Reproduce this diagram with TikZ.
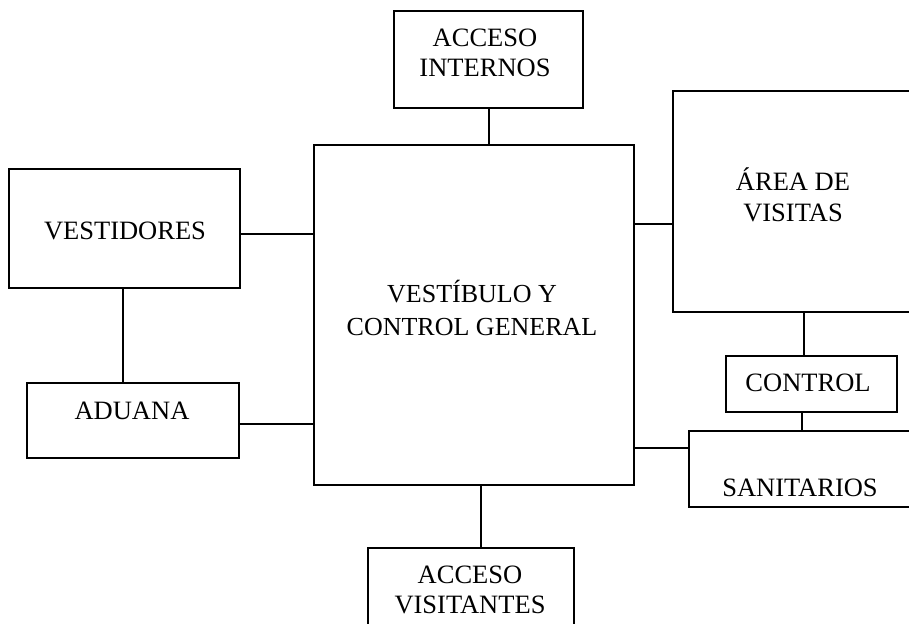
\documentclass[tikz,border=0pt]{standalone}
\usepackage{fontspec}
\setmainfont{Liberation Serif}
\usetikzlibrary{calc}
\begin{document}
\begin{tikzpicture}[x=1pt,y=-1pt,
  box/.style={draw, line width=2pt, rectangle, anchor=north west, inner sep=0pt},
  lbl/.style={font=\fontsize{26.5}{30.5}\selectfont, align=center, inner sep=0pt},
  conn/.style={line width=2pt}]
\useasboundingbox (0,0) rectangle (909,623);
\clip (0,0) rectangle (909,623);
% boxes
\node[box, minimum width=320pt, minimum height=340pt] (main) at (313,144) {};
\node[box, minimum width=189pt, minimum height=97pt] (intern) at (393,10) {};
\node[box, minimum width=206pt, minimum height=90pt] (visit) at (367,547) {};
\node[box, minimum width=231pt, minimum height=119pt] (vest) at (8,168) {};
\node[box, minimum width=212pt, minimum height=75pt] (adu) at (26,382) {};
\node[box, minimum width=245pt, minimum height=221pt] (area) at (672,90) {};
\node[box, minimum width=171pt, minimum height=56pt] (ctrl) at (725,355) {};
\node[box, minimum width=230pt, minimum height=76pt] (sanit) at (688,430) {};
% texts
\node[lbl, font=\fontsize{26}{33}\selectfont] (tmain) at (472,308) {VESTÍBULO Y\\CONTROL GENERAL};
\node[lbl] (tintern) at (485,53) {ACCESO\\INTERNOS};
\node[lbl] (tvisit) at (470,590) {ACCESO\\VISITANTES};
\node[lbl] (tvest) at (125,231) {VESTIDORES};
\node[lbl] (tadu) at (132,411) {ADUANA};
\node[lbl] (tarea) at (793,195) {ÁREA DE\\VISITAS};
\node[lbl] (tctrl) at (808,383) {CONTROL};
\node[lbl] (tsanit) at (800,488) {SANITARIOS};
% connectors
\draw[conn] (intern.south) -- (intern.south |- main.north);
\draw[conn] ([xshift=10pt]visit.north) -- ([xshift=10pt]visit.north |- main.south);
\draw[conn] ([yshift=-5pt]vest.east) -- ([yshift=-5pt]vest.east -| main.west);
\draw[conn] ([yshift=-3pt]adu.east) -- ([yshift=-3pt]adu.east -| main.west);
\draw[conn] ([xshift=-2pt]vest.south) -- ([xshift=-2pt]vest.south |- adu.north);
\draw[conn] ([yshift=-22pt]area.west) -- ([yshift=-22pt]area.west -| main.east);
\draw[conn] ([yshift=21pt]sanit.west) -- ([yshift=21pt]sanit.west -| main.east);
\draw[conn] ([xshift=-8pt]ctrl.north) -- ([xshift=-8pt]ctrl.north |- area.south);
\draw[conn] ([xshift=-10pt]ctrl.south) -- ([xshift=-10pt]ctrl.south |- sanit.north);
\end{tikzpicture}
\end{document}
